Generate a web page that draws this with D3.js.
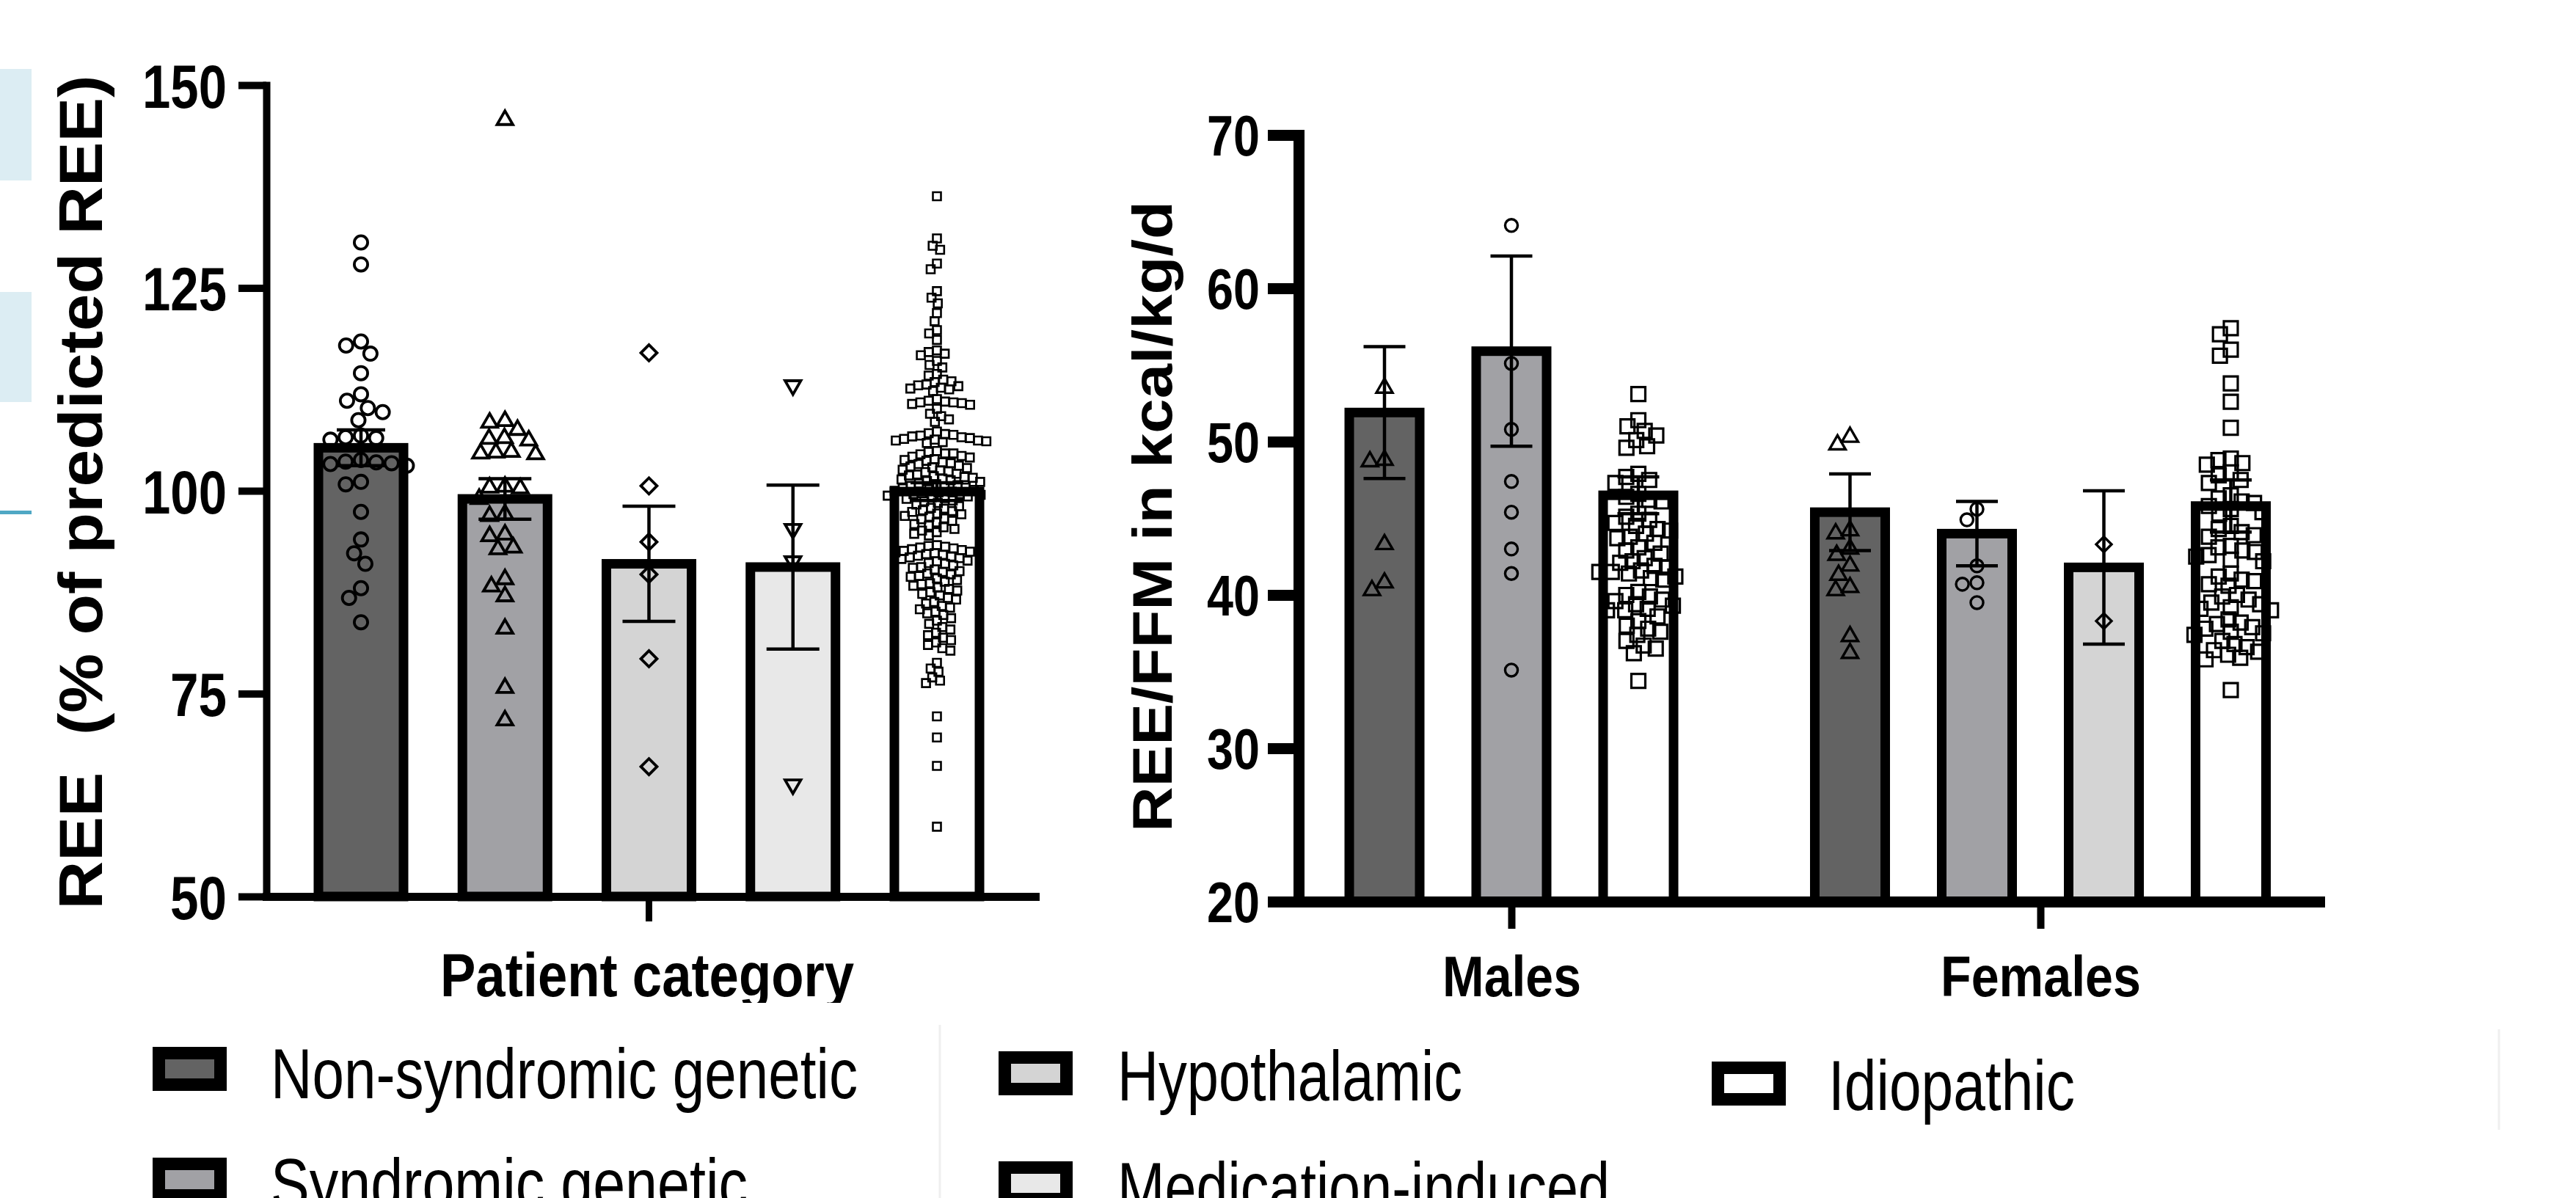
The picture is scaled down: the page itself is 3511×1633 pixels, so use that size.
<!DOCTYPE html>
<html><head><meta charset="utf-8">
<script src="https://cdn.jsdelivr.net/npm/d3@7"></script>
<style>html,body{margin:0;padding:0;background:#fff;} svg{display:block;}</style>
</head><body><svg id="c" width="3511" height="1633"></svg>
<script>
// ---------------- DATA ----------------
const leftCategories = ["Non-syndromic genetic","Syndromic genetic","Hypothalamic","Medication-induced","Idiopathic"];
const leftMeans = [105.3, 99.0, 91.0, 90.6, 99.9];
const leftSEM = [2.2, 2.5, 7.1, 10.1, 1.1];
const leftTicks = [50, 75, 100, 125, 150];

const leftNonSyndromic = [130.6, 127.9, 118.4, 117.9, 116.9, 114.5, 111.9, 111.1, 110.2, 109.7, 108.7, 106.8, 106.6, 106.5, 106.3, 103.8, 103.6, 103.5, 103.4, 103.3, 103.1, 101.1, 100.8, 97.4, 94.0, 92.3, 91.0, 88.0, 86.8, 83.8];
const leftSyndromic = [145.7, 108.6, 108.4, 107.5, 106.5, 106.4, 106.2, 104.8, 104.7, 104.6, 104.5, 100.5, 100.4, 100.3, 99.0, 97.1, 96.9, 94.6, 94.4, 93.0, 92.8, 89.1, 88.2, 87.0, 83.0, 75.7, 71.7];
const leftHypothalamic = [117.0, 100.6, 93.7, 89.7, 79.3, 66.0];
const leftMedication = [113.0, 95.3, 91.3, 63.8];
const leftIdiopathic = [
136.3, 131.1, 130.2, 129.7, 128.0, 127.3, 124.6, 123.8, 123.1, 121.9,
120.9, 119.8, 119.4, 118.6, 117.3, 117.1, 116.9, 116.7, 116.0, 115.5,
115.2, 114.4, 114.2, 113.7, 113.5, 113.4, 113.1, 113.0, 112.9, 112.7,
112.6, 112.5, 112.3, 111.3, 111.1, 111.0, 110.9, 110.9, 110.8, 110.7,
110.6, 110.1, 109.5, 109.2, 108.8, 108.5, 107.3, 107.1, 107.0, 106.9,
106.8, 106.7, 106.6, 106.5, 106.4, 106.3, 106.2, 106.2, 106.1, 106.0,
105.9, 104.9, 104.8, 104.6, 104.6, 104.5, 104.3, 104.2, 104.1, 103.9,
103.8, 103.7, 103.5, 103.4, 103.3, 103.1, 103.0, 102.9, 102.8, 102.6,
102.5, 102.4, 102.3, 102.1, 102.0, 101.9, 101.8, 101.7, 101.6, 101.5,
101.4, 101.3, 101.2, 101.1, 100.9, 100.8, 100.7, 100.6, 100.5, 100.4,
100.3, 100.2, 100.1, 100.0, 99.9, 99.8, 99.7, 99.6, 99.6, 99.5,
99.4, 99.3, 99.2, 99.1, 99.0, 98.8, 98.7, 98.5, 98.3, 98.1,
97.9, 97.8, 97.6, 97.5, 97.4, 97.2, 97.1, 96.9, 96.8, 96.6,
96.5, 96.3, 96.1, 95.9, 95.7, 95.5, 95.3, 95.1, 94.9, 94.7,
94.5, 93.3, 93.2, 93.1, 93.0, 92.9, 92.8, 92.7, 92.6, 92.5,
92.4, 92.3, 92.2, 92.1, 92.0, 91.9, 91.8, 91.7, 91.6, 91.4,
91.3, 91.1, 91.0, 90.8, 90.6, 90.5, 90.3, 90.1, 90.0, 89.8,
89.7, 89.5, 89.4, 89.2, 89.0, 88.8, 88.6, 88.5, 88.3, 88.1,
87.9, 87.7, 87.5, 87.3, 87.1, 86.8, 86.6, 86.3, 86.1, 85.8,
85.6, 85.4, 85.1, 84.9, 84.7, 84.3, 84.0, 83.6, 83.2, 82.9,
82.5, 82.2, 81.9, 81.6, 81.3, 81.0, 80.6, 80.3, 78.8, 78.1,
77.7, 77.0, 76.6, 76.3, 72.2, 69.6, 66.1, 58.6];

const rightGroups = ["Males", "Females"];
const rightTicks = [20, 30, 40, 50, 60, 70];
const malesCategories = ["Non-syndromic genetic","Syndromic genetic","Idiopathic"];
const malesMeans = [51.9, 55.9, 46.5];
const malesSEM = [4.3, 6.2, 1.2];
const femalesCategories = ["Non-syndromic genetic","Syndromic genetic","Hypothalamic","Idiopathic"];
const femalesMeans = [45.4, 44.0, 41.8, 45.8];
const femalesSEM = [2.5, 2.1, 5.0, 1.7];

const malesNonSyndromic = [53.5, 48.8, 48.7, 43.3, 40.8, 40.3];
const malesSyndromic = [64.1, 55.1, 50.8, 47.4, 45.4, 43.0, 41.4, 35.1];
const malesIdiopathic = [53.1, 51.4, 51.0, 50.7, 50.4, 50.1, 49.7, 49.6, 47.9, 47.7, 47.5, 47.3, 46.6, 46.4, 46.2, 46.1, 45.3, 45.1, 44.9, 44.7, 44.5, 44.3, 44.2, 44.0, 43.8, 43.7, 43.4, 43.1, 42.9, 42.7, 42.4, 42.2, 42.1, 41.9, 41.8, 41.6, 41.5, 41.5, 41.4, 41.2, 41.1, 41.0, 40.2, 40.0, 39.9, 39.7, 39.6, 39.4, 39.3, 39.1, 39.0, 39.0, 38.6, 38.3, 38.0, 37.8, 37.6, 37.4, 37.0, 36.7, 36.5, 36.2, 34.4];
const femalesNonSyndromic = [50.3, 49.8, 44.2, 44.0, 43.0, 42.6, 41.9, 41.3, 40.5, 40.3, 37.3, 36.2];
const femalesSyndromic = [45.6, 44.9, 41.9, 40.8, 40.7, 39.5];
const femalesHypothalamic = [43.3, 38.3];
const femalesIdiopathic = [57.4, 57.0, 56.0, 55.6, 53.8, 52.6, 50.9, 48.9, 48.8, 48.6, 48.5, 48.0, 47.8, 47.5, 47.3, 46.5, 46.3, 46.1, 46.0, 45.8, 45.6, 45.4, 45.3, 44.5, 44.3, 44.1, 43.9, 43.8, 43.2, 43.1, 42.9, 42.8, 42.6, 42.5, 42.3, 42.2, 41.4, 41.2, 41.0, 40.9, 40.7, 40.6, 40.0, 39.9, 39.7, 39.5, 39.4, 39.2, 39.1, 39.0, 38.4, 38.2, 38.1, 37.9, 37.8, 37.6, 37.5, 37.4, 37.0, 36.8, 36.6, 36.4, 36.3, 36.1, 35.9, 35.8, 33.8];

const legendItems = ["Non-syndromic genetic","Syndromic genetic","Hypothalamic","Medication-induced","Idiopathic"];

// ---------------- STYLE ----------------
const fillOf = {
  "Non-syndromic genetic": "#636363",
  "Syndromic genetic": "#a1a1a5",
  "Hypothalamic": "#d4d4d4",
  "Medication-induced": "#e8e8e8",
  "Idiopathic": "#ffffff"
};
const NARROW = "'Liberation Sans Narrow','Arial Narrow','Liberation Sans',Arial,sans-serif";

const svg = d3.select("#c");
svg.append("rect").attr("width", 3511).attr("height", 1633).attr("fill", "#fff");

// page fragments at the left edge / legend separators
svg.append("rect").attr("x", 0).attr("y", 94).attr("width", 43).attr("height", 152).attr("fill", "#dcedf3");
svg.append("rect").attr("x", 0).attr("y", 398).attr("width", 43).attr("height", 150).attr("fill", "#dcedf3");
svg.append("rect").attr("x", 0).attr("y", 696).attr("width", 43).attr("height", 5).attr("fill", "#4fa8c4");
svg.append("line").attr("x1", 1281).attr("x2", 1281).attr("y1", 1397).attr("y2", 1633).attr("stroke", "#efefef").attr("stroke-width", 3);
svg.append("line").attr("x1", 3406).attr("x2", 3406).attr("y1", 1403).attr("y2", 1540).attr("stroke", "#efefef").attr("stroke-width", 3);

const clip = svg.append("defs").append("clipPath").attr("id", "clipBottom");
clip.append("rect").attr("x", 0).attr("y", 0).attr("width", 3511).attr("height", 1367);

// symbols
function symbolPath(kind, size) {
  if (kind === "circle") return d3.symbol(d3.symbolCircle, size)();
  if (kind === "triangle" || kind === "down") return d3.symbol(d3.symbolTriangle, size)();
  return d3.symbol(d3.symbolSquare, size)();
}
function symbolRotate(kind) {
  if (kind === "down") return 180;
  if (kind === "diamond") return 45;
  return 0;
}

// beeswarm layout computed from values
function swarm(values, yScale, d) {
  const pts = values.map(v => ({ v, y: yScale(v), dx: 0 })).sort((a, b) => a.y - b.y);
  const placed = [];
  for (const p of pts) {
    const cands = [0];
    for (const q of placed) {
      const dy = Math.abs(q.y - p.y);
      if (dy < d) {
        const w = Math.sqrt(d * d - dy * dy);
        cands.push(q.dx + w, q.dx - w);
      }
    }
    cands.sort((a, b) => Math.abs(a) - Math.abs(b) || a - b);
    for (const c of cands) {
      if (placed.every(q => (q.dx - c) ** 2 + (q.y - p.y) ** 2 >= d * d - 0.5)) { p.dx = c; break; }
    }
    placed.push(p);
  }
  return placed;
}

function drawPoints(g, values, cx, yScale, kind, size, sw, coll) {
  const pts = swarm(values, yScale, coll);
  g.selectAll(null).data(pts).enter().append("path")
    .attr("d", symbolPath(kind, size))
    .attr("transform", p => `translate(${cx + p.dx},${p.y}) rotate(${symbolRotate(kind)})`)
    .attr("fill", "none").attr("stroke", "#000").attr("stroke-width", sw);
}

function drawErrorBar(g, cx, mean, sem, yScale, cap, sw) {
  const y1 = yScale(mean + sem), y0 = yScale(mean - sem);
  g.append("line").attr("x1", cx).attr("x2", cx).attr("y1", y1).attr("y2", y0).attr("stroke", "#000").attr("stroke-width", sw);
  g.append("line").attr("x1", cx - cap / 2).attr("x2", cx + cap / 2).attr("y1", y1).attr("y2", y1).attr("stroke", "#000").attr("stroke-width", sw);
  g.append("line").attr("x1", cx - cap / 2).attr("x2", cx + cap / 2).attr("y1", y0).attr("y2", y0).attr("stroke", "#000").attr("stroke-width", sw);
}

function fitText(sel, len) {
  sel.attr("textLength", len).attr("lengthAdjust", "spacingAndGlyphs");
}

// ---------------- LEFT CHART ----------------
const yL = d3.scaleLinear().domain([50, 150]).range([1222, 116]);
const xL = d3.scalePoint().domain(leftCategories).range([492, 1277]);
const leftAxisX = 363, leftAxisEnd = 1411;
const gL = svg.append("g");

const lBarW = 116, lBarStroke = 13;
gL.selectAll(null).data(leftCategories).enter().append("rect")
  .attr("x", c => xL(c) - lBarW / 2)
  .attr("y", (c, i) => yL(leftMeans[i]))
  .attr("width", lBarW)
  .attr("height", (c, i) => yL(50) - yL(leftMeans[i]))
  .attr("fill", c => fillOf[c]).attr("stroke", "#000").attr("stroke-width", lBarStroke);

// y axis
const axL = gL.append("g").attr("transform", `translate(${leftAxisX},0)`)
  .call(d3.axisLeft(yL).tickValues(leftTicks).tickSize(38).tickPadding(16).tickSizeOuter(0));
axL.select(".domain").attr("stroke-width", 10).attr("stroke-linecap", "square");
axL.selectAll(".tick line").attr("stroke-width", 10);
axL.selectAll(".tick text").attr("font-family", NARROW).attr("font-weight", "bold").attr("font-size", 84).attr("fill", "#000")
  .attr("dy", "0.36em")
  .each(function (d) { fitText(d3.select(this), String(d).length === 3 ? 115 : 77); });

// x axis line + single tick
const xLineL = d3.scaleLinear().domain([0, 1]).range([leftAxisX, leftAxisEnd]);
const axLB = gL.append("g").attr("transform", `translate(0,${yL(50)})`)
  .call(d3.axisBottom(xLineL).tickValues([]).tickSizeOuter(0));
axLB.select(".domain").attr("stroke-width", 11).attr("stroke-linecap", "square");
const leftMid = (xL(leftCategories[0]) + xL(leftCategories[leftCategories.length - 1])) / 2;
gL.append("line").attr("x1", leftMid).attr("x2", leftMid).attr("y1", yL(50)).attr("y2", yL(50) + 34).attr("stroke", "#000").attr("stroke-width", 9);

// points
const leftSeries = [leftNonSyndromic, leftSyndromic, leftHypothalamic, leftMedication, leftIdiopathic];
const leftKinds = ["circle", "triangle", "diamond", "down", "square"];
leftCategories.forEach((c, i) => {
  drawErrorBar(gL, xL(c), leftMeans[i], leftSEM[i], yL, i === 0 ? 66 : 72, 4.5);
});
leftCategories.forEach((c, i) => {
  const k = leftKinds[i];
  if (k === "square") drawPoints(gL, leftSeries[i], xL(c), yL, k, 121, 2.6, 11.5);
  else if (k === "circle") drawPoints(gL, leftSeries[i], xL(c), yL, k, 260, 3.8, 21);
  else if (k === "diamond") drawPoints(gL, leftSeries[i], xL(c), yL, k, 240, 3.8, 21);
  else drawPoints(gL, leftSeries[i], xL(c), yL, k, 200, 3.8, 21);
});

// labels
const yLabL = svg.append("text").attr("transform", "translate(139,671) rotate(-90)")
  .attr("text-anchor", "middle").attr("font-family", NARROW).attr("font-weight", "bold").attr("font-size", 83)
  .style("white-space", "pre").text("REE  (% of predicted REE)");
fitText(yLabL, 1137);
const xLabL = svg.append("text").attr("x", 882).attr("y", 1358).attr("clip-path", "url(#clipBottom)")
  .attr("text-anchor", "middle").attr("font-family", NARROW).attr("font-weight", "bold").attr("font-size", 84)
  .text("Patient category");
fitText(xLabL, 564);

// ---------------- RIGHT CHART ----------------
const yR = d3.scaleLinear().domain([20, 70]).range([1229, 184]);
const xG = d3.scalePoint().domain(rightGroups).range([2060, 2781]);
const rightAxisX = 1770, rightAxisEnd = 3161;
const innerStep = 173;
const gR = svg.append("g");
const rBarW = 96, rBarStroke = 13;

const rightData = [
  { group: "Males", cats: malesCategories, means: malesMeans, sem: malesSEM,
    series: [malesNonSyndromic, malesSyndromic, malesIdiopathic], kinds: ["triangle", "circle", "square"] },
  { group: "Females", cats: femalesCategories, means: femalesMeans, sem: femalesSEM,
    series: [femalesNonSyndromic, femalesSyndromic, femalesHypothalamic, femalesIdiopathic], kinds: ["triangle", "circle", "diamond", "square"] }
];
const bars = [];
rightData.forEach(gd => {
  const n = gd.cats.length;
  const inner = d3.scalePoint().domain(d3.range(n)).range([-(n - 1) * innerStep / 2, (n - 1) * innerStep / 2]);
  gd.cats.forEach((c, i) => bars.push({ cx: xG(gd.group) + inner(i), cat: c, mean: gd.means[i], sem: gd.sem[i], vals: gd.series[i], kind: gd.kinds[i] }));
});
gR.selectAll(null).data(bars).enter().append("rect")
  .attr("x", b => b.cx - rBarW / 2).attr("y", b => yR(b.mean))
  .attr("width", rBarW).attr("height", b => yR(20) - yR(b.mean))
  .attr("fill", b => fillOf[b.cat]).attr("stroke", "#000").attr("stroke-width", rBarStroke);

const axR = gR.append("g").attr("transform", `translate(${rightAxisX},0)`)
  .call(d3.axisLeft(yR).tickValues(rightTicks).tickSize(42).tickPadding(11).tickSizeOuter(0));
axR.select(".domain").attr("stroke-width", 15).attr("stroke-linecap", "square");
axR.selectAll(".tick line").attr("stroke-width", 15);
axR.selectAll(".tick text").attr("font-family", NARROW).attr("font-weight", "bold").attr("font-size", 77).attr("fill", "#000")
  .attr("dy", "0.36em").each(function () { fitText(d3.select(this), 72); });

const xLineR = d3.scaleLinear().domain([0, 1]).range([rightAxisX, rightAxisEnd]);
const axRB0 = gR.append("g").attr("transform", `translate(0,${yR(20)})`)
  .call(d3.axisBottom(xLineR).tickValues([]).tickSizeOuter(0));
axRB0.select(".domain").attr("stroke-width", 15).attr("stroke-linecap", "square");
const axRB = gR.append("g").attr("transform", `translate(0,${yR(20)})`)
  .call(d3.axisBottom(xG).tickSize(37).tickSizeOuter(0));
axRB.select(".domain").remove();
axRB.selectAll(".tick line").attr("stroke-width", 10);
axRB.selectAll(".tick text").attr("font-family", NARROW).attr("font-weight", "bold").attr("font-size", 77).attr("fill", "#000")
  .attr("dy", null).attr("y", 1358 - 1229).attr("clip-path", "url(#clipBottomR)")
  .each(function (d) { fitText(d3.select(this), d === "Males" ? 189 : 273); });
svg.select("defs").append("clipPath").attr("id", "clipBottomR")
  .append("rect").attr("x", -500).attr("y", -1300).attr("width", 1000).attr("height", 1367 - 1229 + 1300);

bars.forEach(b => drawErrorBar(gR, b.cx, b.mean, b.sem, yR, 57, 4.5));
bars.forEach(b => {
  if (b.kind === "square") drawPoints(gR, b.vals, b.cx, yR, "square", 360, 3.2, 17);
  else if (b.kind === "circle") drawPoints(gR, b.vals, b.cx, yR, "circle", 230, 3.4, 20);
  else if (b.kind === "diamond") drawPoints(gR, b.vals, b.cx, yR, "diamond", 220, 3.4, 20);
  else drawPoints(gR, b.vals, b.cx, yR, "triangle", 210, 3.4, 20);
});

const yLabR = svg.append("text").attr("transform", "translate(1597,704) rotate(-90)")
  .attr("text-anchor", "middle").attr("font-family", NARROW).attr("font-weight", "bold").attr("font-size", 76)
  .text("REE/FFM in kcal/kg/d");
fitText(yLabR, 860);

// ---------------- LEGEND ----------------
const legendPos = [
  { sx: 208, sy: 1427, tx: 369, ty: 1497, len: 800 },
  { sx: 208, sy: 1578, tx: 369, ty: 1647, len: 650 },
  { sx: 1361, sy: 1433, tx: 1523, ty: 1500, len: 470 },
  { sx: 1361, sy: 1583, tx: 1523, ty: 1652, len: 671 },
  { sx: 2333, sy: 1447, tx: 2492, ty: 1513, len: 336 }
];
const gLeg = svg.append("g");
legendItems.forEach((name, i) => {
  const p = legendPos[i];
  gLeg.append("rect").attr("x", p.sx + 8.5).attr("y", p.sy + 8.5).attr("width", 84).attr("height", 43)
    .attr("fill", fillOf[name]).attr("stroke", "#000").attr("stroke-width", 17);
  const t = gLeg.append("text").attr("x", p.tx).attr("y", p.ty).attr("font-family", NARROW).attr("font-size", 96)
    .attr("fill", "#000").text(name);
  fitText(t, p.len);
});
</script></body></html>
